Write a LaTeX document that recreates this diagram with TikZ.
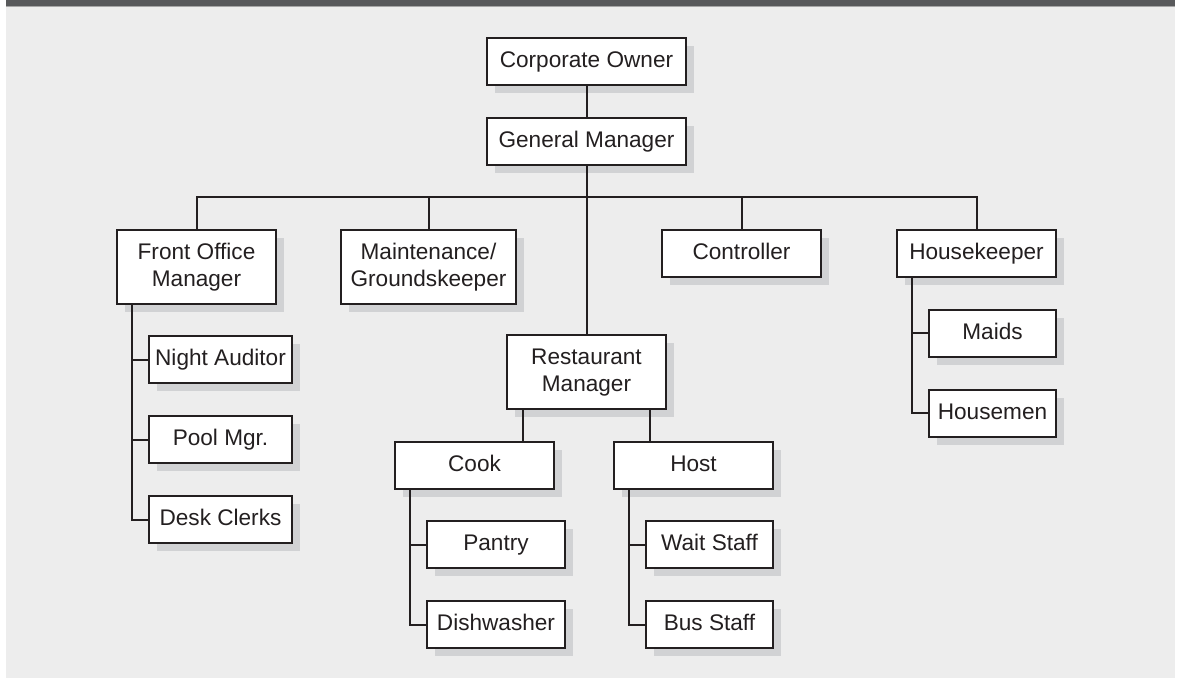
\documentclass[tikz,border=0pt]{standalone}
\usepackage{fontspec}
\setmainfont{Liberation Sans}
\usepackage{tikz}
\usepackage{xcolor}
\usetikzlibrary{shadows}
\definecolor{bgcol}{HTML}{EDEDED}
\definecolor{barcol}{HTML}{58595B}
\definecolor{inkcol}{HTML}{231F20}
\definecolor{shadecol}{HTML}{D1D2D4}

\begin{document}
\begin{tikzpicture}[x=0.5pt,y=-0.5pt,
  box/.style={draw=inkcol,line width=1pt,fill=white,text=inkcol,inner sep=0pt,align=center,
    minimum width=79.5pt,minimum height=23.5pt,text height=8.5pt,text depth=2.5pt,
    font=\fontsize{11.3}{13.3}\selectfont,
    general shadow={fill=shadecol,shadow xshift=4pt,shadow yshift=-4pt}},
  tall/.style={minimum height=37pt,text height=,text depth=},
  link/.style={draw=inkcol,line width=1pt}]
\useasboundingbox (0,0) rectangle (1179,678);
\fill[bgcol] (6,7) rectangle (1175,678);
\fill[barcol] (6,0) rectangle (1175,6.5);
\fill[gray!70] (6,6.5) rectangle (1175,7.5);
\node[box,minimum width=99.5pt] (n1) at (586.5,61.5) {Corporate Owner};
\node[box,minimum width=99.5pt] (n2) at (586.5,141.5) {General Manager};
\node[box,tall] (n3) at (196.5,267) {Front Office\\Manager};
\node[box,tall,minimum width=87.5pt] (n4) at (428.5,267) {Maintenance/\\Groundskeeper};
\node[box] (n5) at (741.5,253.5) {Controller};
\node[box] (n6) at (976.5,253.5) {Housekeeper};
\node[box,tall] (n7) at (586.5,372.5) {Restaurant\\Manager};
\node[box] (n8) at (474.5,465.5) {Cook};
\node[box] (n9) at (693.5,465.5) {Host};
\node[box,minimum width=71.5pt] (n10) at (220.5,360) {Night Auditor};
\node[box,minimum width=71.5pt] (n11) at (220.5,440) {Pool Mgr.};
\node[box,minimum width=71.5pt] (n12) at (220.5,520) {Desk Clerks};
\node[box,minimum width=63.5pt] (n13) at (992.5,333.5) {Maids};
\node[box,minimum width=63.5pt] (n14) at (992.5,413.5) {Housemen};
\node[box,minimum width=69pt] (n15) at (496,545) {Pantry};
\node[box,minimum width=69pt] (n16) at (496,625) {Dishwasher};
\node[box,minimum width=63.5pt] (n17) at (709.5,545) {Wait Staff};
\node[box,minimum width=63.5pt] (n18) at (709.5,625) {Bus Staff};
\coordinate (bar) at (586.5,197);
\draw[link] (n1) -- (n2);
\draw[link] (n2) -- (n7);
\draw[link] (n3.north) |- (bar) -| (n6.north);
\draw[link] (n4.north) -- (n4.north |- bar);
\draw[link] (n5.north) -- (n5.north |- bar);
\draw[link] ([xshift=8pt]n3.south west) |- (n10.west);
\draw[link] ([xshift=8pt]n3.south west) |- (n11.west);
\draw[link] ([xshift=8pt]n3.south west) |- (n12.west);
\draw[link] ([xshift=8pt]n6.south west) |- (n13.west);
\draw[link] ([xshift=8pt]n6.south west) |- (n14.west);
\draw[link] ([xshift=8.5pt]n7.south west) -- ([xshift=8.5pt]n7.south west |- n8.north);
\draw[link] ([xshift=-8.5pt]n7.south east) -- ([xshift=-8.5pt]n7.south east |- n9.north);
\draw[link] ([xshift=8pt]n8.south west) |- (n15.west);
\draw[link] ([xshift=8pt]n8.south west) |- (n16.west);
\draw[link] ([xshift=8pt]n9.south west) |- (n17.west);
\draw[link] ([xshift=8pt]n9.south west) |- (n18.west);
\end{tikzpicture}
\end{document}
